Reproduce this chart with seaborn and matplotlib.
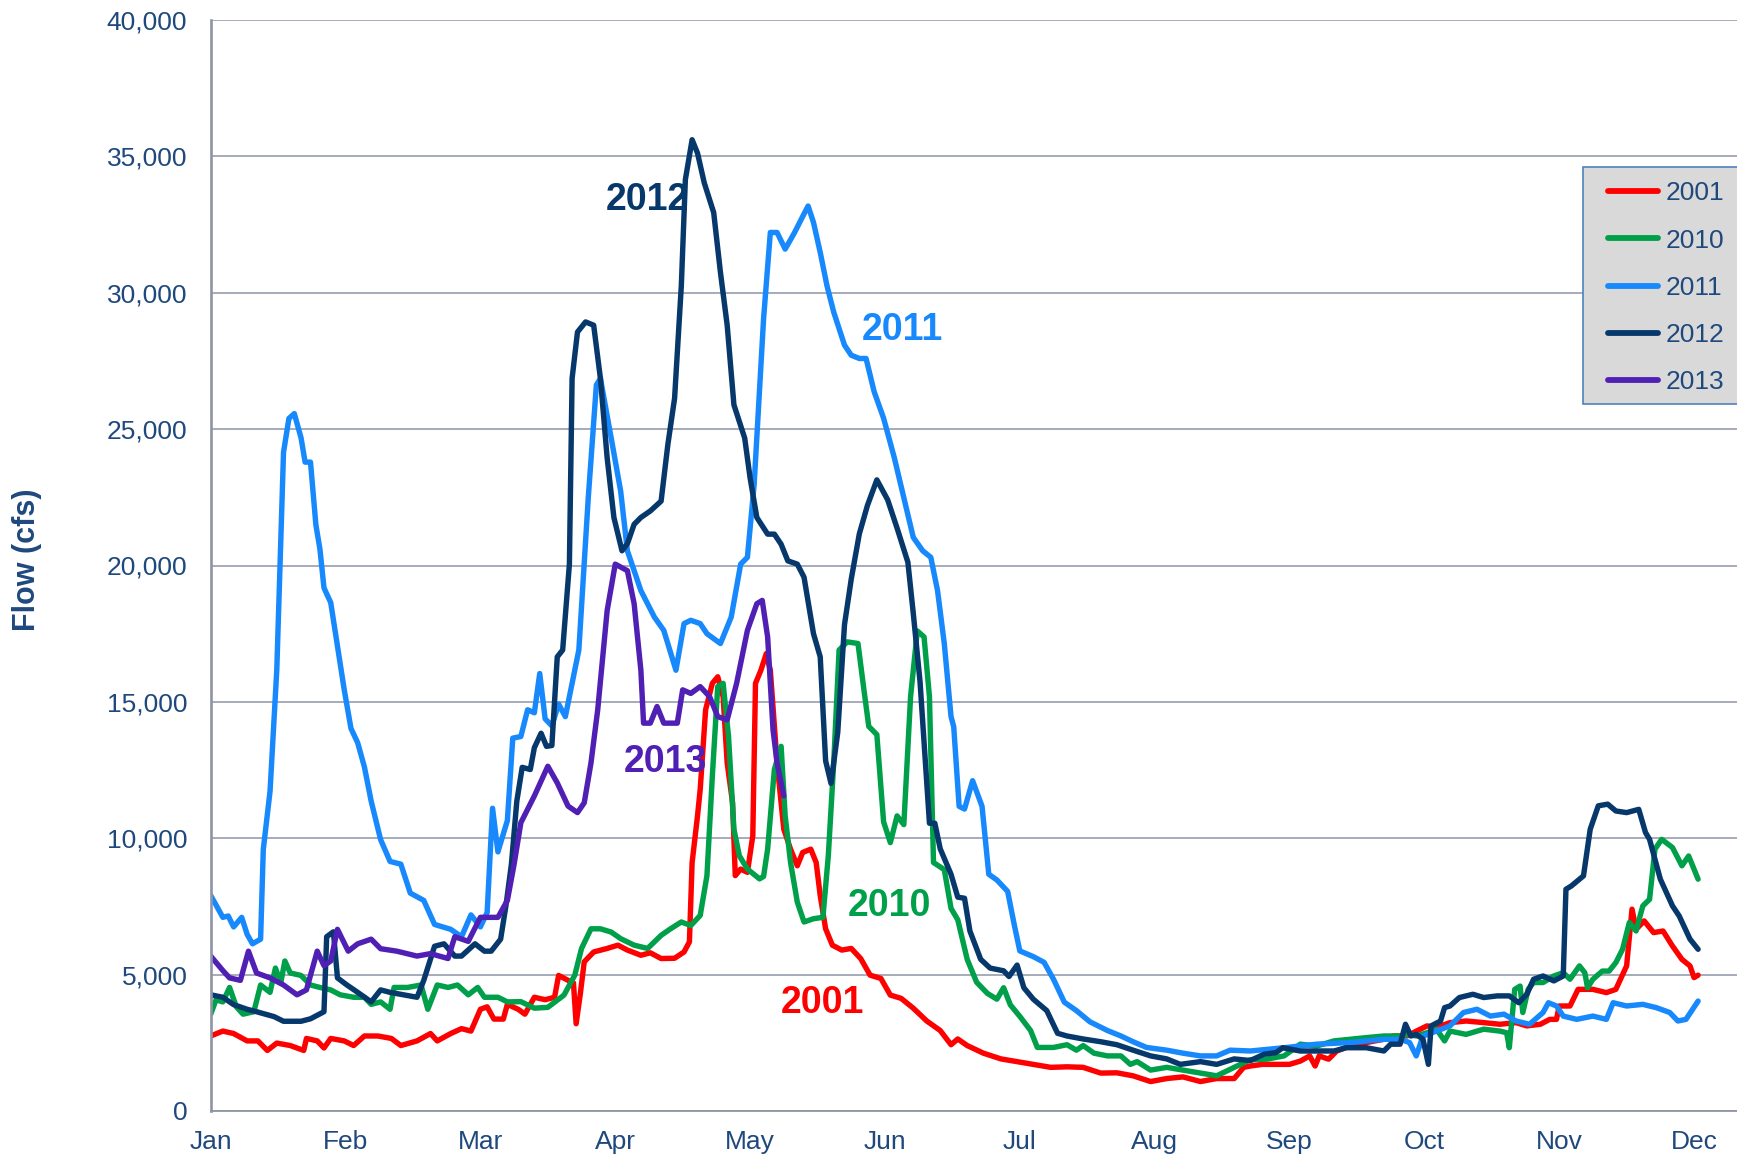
import matplotlib
matplotlib.use("Agg")
import matplotlib.pyplot as plt
import matplotlib.patches as mpatches
from matplotlib.lines import Line2D
from matplotlib.ticker import FuncFormatter
import seaborn as sns
import pandas as pd

# ---------------- data (x = position in months, 0 = Jan 1) ----------------
months = ["Jan", "Feb", "Mar", "Apr", "May", "Jun", "Jul", "Aug", "Sep", "Oct", "Nov", "Dec"]
years = ["2001", "2010", "2011", "2012", "2013"]

t_2001 = [0.00, 0.09, 0.17, 0.27, 0.35, 0.42, 0.49, 0.59, 0.69, 0.71, 0.79, 0.84, 0.89, 0.99, 1.06, 1.14, 1.24,
          1.34, 1.41, 1.53, 1.63, 1.68, 1.78, 1.86, 1.93, 2.00, 2.05, 2.10, 2.17, 2.20, 2.28, 2.33, 2.40, 2.48,
          2.55, 2.58, 2.65, 2.69, 2.71, 2.74, 2.77, 2.84, 2.94, 3.02, 3.09, 3.19, 3.26, 3.34, 3.44, 3.51, 3.55,
          3.57, 3.61, 3.63, 3.67, 3.72, 3.76, 3.80, 3.83, 3.87, 3.89, 3.93, 3.98, 4.02, 4.04, 4.08, 4.12, 4.15,
          4.20, 4.25, 4.30, 4.35, 4.39, 4.45, 4.49, 4.52, 4.56, 4.61, 4.68, 4.75, 4.82, 4.89, 4.97, 5.04, 5.12,
          5.21, 5.31, 5.41, 5.49, 5.54, 5.61, 5.73, 5.86, 5.98, 6.10, 6.23, 6.35, 6.47, 6.60, 6.72, 6.84, 6.97,
          7.09, 7.21, 7.34, 7.46, 7.59, 7.66, 7.71, 7.80, 7.90, 8.00, 8.08, 8.15, 8.19, 8.22, 8.29, 8.35, 8.45,
          8.57, 8.70, 8.77, 8.87, 8.97, 9.02, 9.09, 9.19, 9.31, 9.44, 9.56, 9.68, 9.76, 9.86, 9.93, 9.98, 10.00,
          10.08, 10.14, 10.25, 10.35, 10.42, 10.50, 10.54, 10.57, 10.63, 10.70, 10.77, 10.84, 10.91, 10.97,
          11.00, 11.03]
q_2001 = [2750, 2930, 2840, 2570, 2570, 2220, 2490, 2400, 2220, 2660, 2570, 2310, 2660, 2570, 2400, 2750, 2750,
          2660, 2400, 2570, 2840, 2570, 2840, 3020, 2930, 3730, 3820, 3370, 3370, 3910, 3730, 3550, 4170, 4080,
          4170, 4970, 4790, 4700, 3200, 4260, 5470, 5830, 5960, 6080, 5900, 5710, 5800, 5590, 5600, 5830, 6200,
          9110, 10820, 11790, 14710, 15680, 15920, 15190, 12760, 11300, 8630, 8870, 8750, 10090, 15680, 16160,
          16770, 16160, 12760, 10330, 9600, 8990, 9480, 9600, 9110, 7900, 6680, 6080, 5900, 5960, 5590, 4980,
          4860, 4250, 4130, 3770, 3300, 2950, 2430, 2640, 2400, 2120, 1910, 1810, 1710, 1600, 1620, 1600, 1390,
          1400, 1290, 1080, 1190, 1250, 1080, 1190, 1190, 1600, 1650, 1710, 1710, 1710, 1830, 2020, 1650, 2020,
          1900, 2200, 2380, 2510, 2630, 2750, 2750, 3000, 3120, 3060, 3240, 3300, 3240, 3180, 3240, 3120, 3180,
          3360, 3360, 3850, 3850, 4460, 4460, 4340, 4460, 5320, 7400, 6660, 6970, 6540, 6600, 6050, 5560, 5320,
          4890, 4980]

t_2010 = [0.00, 0.04, 0.09, 0.14, 0.19, 0.24, 0.32, 0.37, 0.44, 0.48, 0.52, 0.55, 0.59, 0.67, 0.74, 0.81, 0.89,
          0.96, 1.06, 1.14, 1.19, 1.26, 1.33, 1.36, 1.46, 1.56, 1.61, 1.68, 1.76, 1.83, 1.91, 1.98, 2.03, 2.13,
          2.20, 2.30, 2.40, 2.50, 2.62, 2.70, 2.75, 2.82, 2.89, 2.97, 3.04, 3.14, 3.24, 3.34, 3.41, 3.49, 3.56,
          3.63, 3.68, 3.72, 3.76, 3.80, 3.84, 3.88, 3.92, 3.98, 4.07, 4.10, 4.13, 4.18, 4.23, 4.26, 4.30, 4.35,
          4.40, 4.47, 4.54, 4.58, 4.62, 4.66, 4.72, 4.80, 4.84, 4.88, 4.94, 4.99, 5.04, 5.09, 5.14, 5.19, 5.24,
          5.29, 5.33, 5.36, 5.44, 5.49, 5.54, 5.61, 5.68, 5.76, 5.83, 5.88, 5.93, 6.00, 6.08, 6.13, 6.25, 6.35,
          6.42, 6.47, 6.55, 6.65, 6.75, 6.82, 6.87, 6.97, 7.09, 7.21, 7.34, 7.46, 7.59, 7.71, 7.83, 7.96, 8.08,
          8.20, 8.33, 8.45, 8.57, 8.70, 8.82, 8.89, 8.94, 9.02, 9.09, 9.15, 9.19, 9.31, 9.44, 9.56, 9.61, 9.63,
          9.67, 9.71, 9.73, 9.77, 9.81, 9.88, 9.96, 10.03, 10.08, 10.15, 10.19, 10.21, 10.25, 10.32, 10.37,
          10.42, 10.47, 10.52, 10.57, 10.62, 10.67, 10.71, 10.76, 10.84, 10.91, 10.96, 11.03]
q_2010 = [3550, 4080, 4000, 4530, 3820, 3550, 3640, 4620, 4350, 5240, 4710, 5500, 5060, 4970, 4620, 4530, 4440,
          4260, 4170, 4170, 3910, 4000, 3730, 4530, 4530, 4620, 3730, 4620, 4530, 4620, 4260, 4530, 4170, 4170,
          4000, 4010, 3770, 3800, 4250, 4980, 5960, 6680, 6680, 6560, 6320, 6080, 5960, 6440, 6680, 6930, 6800,
          7170, 8630, 12280, 15560, 15680, 13730, 10330, 9360, 8870, 8510, 8600, 9600, 12520, 13370, 10820,
          9110, 7660, 6930, 7050, 7100, 9360, 12760, 16900, 17200, 17140, 15600, 14100, 13800, 10600, 9840,
          10820, 10500, 15190, 17600, 17380, 15190, 9110, 8850, 7430, 7010, 5560, 4720, 4310, 4100, 4520, 3890,
          3470, 2950, 2330, 2330, 2430, 2230, 2400, 2120, 2020, 2020, 1710, 1810, 1500, 1600, 1500, 1390, 1290,
          1600, 1880, 1900, 2020, 2450, 2380, 2570, 2630, 2690, 2750, 2750, 2810, 2750, 2870, 3000, 2570, 2930,
          2810, 3000, 2930, 2870, 2320, 4460, 4580, 3610, 4460, 4710, 4710, 4950, 5070, 4830, 5320, 5070, 4520,
          4830, 5130, 5130, 5440, 5930, 6910, 6600, 7520, 7760, 9600, 9960, 9660, 8990, 9350, 8500]

t_2011 = [0.00, 0.04, 0.09, 0.13, 0.17, 0.23, 0.27, 0.31, 0.37, 0.39, 0.44, 0.49, 0.54, 0.58, 0.62, 0.67, 0.70,
          0.74, 0.78, 0.81, 0.84, 0.89, 0.94, 0.99, 1.04, 1.09, 1.14, 1.19, 1.26, 1.33, 1.41, 1.48, 1.58, 1.66,
          1.78, 1.86, 1.93, 2.00, 2.05, 2.09, 2.13, 2.20, 2.24, 2.30, 2.35, 2.40, 2.44, 2.48, 2.53, 2.58, 2.63,
          2.68, 2.73, 2.80, 2.86, 2.89, 2.97, 3.04, 3.09, 3.19, 3.29, 3.36, 3.45, 3.51, 3.56, 3.63, 3.68, 3.78,
          3.86, 3.93, 3.98, 4.03, 4.10, 4.15, 4.20, 4.26, 4.33, 4.38, 4.43, 4.47, 4.52, 4.57, 4.62, 4.70, 4.75,
          4.81, 4.86, 4.92, 4.99, 5.07, 5.14, 5.21, 5.28, 5.34, 5.39, 5.44, 5.49, 5.51, 5.55, 5.59, 5.65, 5.72,
          5.77, 5.83, 5.91, 5.96, 6.00, 6.10, 6.18, 6.25, 6.33, 6.42, 6.52, 6.65, 6.75, 6.84, 6.94, 7.09, 7.21,
          7.34, 7.46, 7.56, 7.71, 7.96, 8.20, 8.45, 8.70, 8.82, 8.89, 8.94, 8.99, 9.09, 9.19, 9.29, 9.39, 9.49,
          9.59, 9.68, 9.78, 9.88, 9.92, 9.98, 10.03, 10.13, 10.25, 10.35, 10.40, 10.50, 10.62, 10.72, 10.82,
          10.88, 10.94, 10.99, 11.03]
q_2011 = [7900, 7550, 7100, 7150, 6750, 7100, 6480, 6130, 6300, 9590, 11720, 16160, 24150, 25390, 25570, 24680,
          23790, 23790, 21490, 20600, 19180, 18640, 17050, 15450, 14030, 13500, 12610, 11360, 9950, 9150, 9050,
          7990, 7720, 6840, 6660, 6390, 7190, 6750, 7280, 11100, 9500, 10650, 13670, 13730, 14710, 14600, 16040,
          14380, 14120, 14920, 14460, 15680, 16900, 22490, 26620, 26860, 24670, 22730, 20540, 19080, 18110,
          17620, 16160, 17870, 17990, 17870, 17500, 17140, 18110, 20050, 20300, 22970, 29050, 32210, 32210,
          31600, 32210, 32700, 33180, 32580, 31480, 30260, 29290, 28080, 27710, 27590, 27590, 26370, 25400,
          23940, 22490, 21030, 20540, 20300, 19080, 17140, 14460, 14090, 11170, 11070, 12110, 11170, 8680, 8470,
          8050, 6800, 5870, 5660, 5450, 4830, 3990, 3680, 3270, 2950, 2750, 2540, 2330, 2230, 2120, 2020, 2020,
          2230, 2200, 2320, 2450, 2510, 2630, 2630, 2510, 2020, 2750, 2930, 3120, 3610, 3730, 3480, 3550, 3300,
          3180, 3610, 3970, 3850, 3480, 3360, 3480, 3360, 3970, 3850, 3910, 3790, 3610, 3300, 3360, 3730, 4030]

t_2012 = [0.00, 0.09, 0.17, 0.27, 0.34, 0.47, 0.54, 0.67, 0.74, 0.84, 0.86, 0.91, 0.94, 1.01, 1.09, 1.19, 1.26,
          1.33, 1.43, 1.53, 1.58, 1.66, 1.73, 1.81, 1.86, 1.96, 2.03, 2.08, 2.15, 2.19, 2.23, 2.27, 2.31, 2.37,
          2.40, 2.45, 2.49, 2.53, 2.57, 2.61, 2.66, 2.68, 2.72, 2.78, 2.84, 2.89, 2.94, 2.99, 3.05, 3.09, 3.14,
          3.19, 3.26, 3.34, 3.39, 3.44, 3.49, 3.52, 3.57, 3.61, 3.66, 3.73, 3.78, 3.83, 3.88, 3.96, 4.00, 4.05,
          4.13, 4.18, 4.23, 4.28, 4.35, 4.40, 4.47, 4.52, 4.56, 4.60, 4.65, 4.70, 4.75, 4.81, 4.87, 4.94, 5.02,
          5.09, 5.17, 5.21, 5.26, 5.33, 5.37, 5.41, 5.49, 5.54, 5.59, 5.63, 5.71, 5.78, 5.88, 5.92, 5.98, 6.03,
          6.10, 6.20, 6.28, 6.35, 6.47, 6.60, 6.72, 6.84, 6.97, 7.09, 7.19, 7.34, 7.46, 7.59, 7.71, 7.81, 7.90,
          7.95, 8.08, 8.20, 8.33, 8.42, 8.57, 8.70, 8.75, 8.82, 8.86, 8.90, 8.94, 8.99, 9.03, 9.05, 9.12, 9.15,
          9.19, 9.26, 9.36, 9.44, 9.54, 9.63, 9.70, 9.76, 9.81, 9.88, 9.96, 10.03, 10.05, 10.09, 10.18, 10.23,
          10.29, 10.36, 10.42, 10.50, 10.59, 10.64, 10.67, 10.75, 10.84, 10.89, 10.97, 11.03]
q_2012 = [4260, 4170, 3900, 3730, 3640, 3460, 3290, 3290, 3380, 3640, 6390, 6570, 4880, 4620, 4350, 4000, 4440,
          4350, 4260, 4170, 4790, 6040, 6130, 5680, 5680, 6130, 5860, 5860, 6300, 7550, 9050, 11360, 12600,
          12520, 13320, 13850, 13370, 13400, 16650, 16900, 20050, 26860, 28560, 28930, 28810, 26860, 23940,
          21760, 20540, 20800, 21510, 21760, 22000, 22360, 24430, 26130, 30260, 34150, 35610, 35120, 34030,
          32940, 30750, 28810, 25890, 24670, 23210, 21760, 21150, 21150, 20780, 20170, 20050, 19570, 17500,
          16650, 12840, 12010, 13880, 17830, 19500, 21160, 22200, 23140, 22410, 21370, 20120, 18250, 15750,
          10550, 10550, 9610, 8680, 7840, 7800, 6600, 5560, 5240, 5140, 4930, 5350, 4520, 4100, 3680, 2850,
          2750, 2640, 2540, 2430, 2230, 2020, 1910, 1710, 1810, 1710, 1910, 1850, 2080, 2140, 2320, 2200, 2200,
          2200, 2320, 2320, 2200, 2450, 2450, 3180, 2750, 2810, 2630, 1710, 3120, 3300, 3790, 3850, 4160, 4280,
          4160, 4220, 4220, 3970, 4280, 4830, 4950, 4770, 4950, 8130, 8250, 8620, 10330, 11190, 11250, 11000,
          10940, 11060, 10210, 9960, 8500, 7520, 7150, 6300, 5930]

t_2013 = [0.00, 0.09, 0.14, 0.22, 0.28, 0.34, 0.44, 0.54, 0.64, 0.71, 0.79, 0.84, 0.89, 0.94, 1.02, 1.09, 1.19,
          1.26, 1.38, 1.53, 1.63, 1.76, 1.81, 1.91, 2.00, 2.13, 2.20, 2.25, 2.30, 2.40, 2.50, 2.57, 2.65, 2.72,
          2.77, 2.82, 2.87, 2.94, 3.00, 3.09, 3.14, 3.19, 3.21, 3.26, 3.31, 3.36, 3.46, 3.50, 3.56, 3.63, 3.70,
          3.76, 3.83, 3.90, 3.98, 4.05, 4.09, 4.13, 4.17, 4.20, 4.25]
q_2013 = [5680, 5150, 4880, 4790, 5860, 5060, 4880, 4620, 4260, 4440, 5860, 5330, 5500, 6660, 5860, 6130, 6300,
          5950, 5860, 5680, 5770, 5590, 6390, 6220, 7100, 7100, 7720, 9050, 10570, 11550, 12640, 12030, 11180,
          10940, 11300, 12760, 14710, 18350, 20050, 19810, 18600, 16160, 14220, 14220, 14830, 14220, 14220,
          15440, 15310, 15560, 15190, 14460, 14340, 15680, 17620, 18600, 18720, 17380, 13980, 12760, 11550]

# in-chart series labels: (year, month position, flow)
label_pos = {"2012": (3.24, 33400), "2011": (5.13, 28630), "2013": (3.37, 12790),
             "2010": (5.03, 7510), "2001": (4.54, 3970)}

colors = {"2001": "#FF0000", "2010": "#00A04A", "2011": "#1789FC",
          "2012": "#06386C", "2013": "#5020B4"}

series = {"2001": (t_2001, q_2001), "2010": (t_2010, q_2010), "2011": (t_2011, q_2011),
          "2012": (t_2012, q_2012), "2013": (t_2013, q_2013)}
frames = [pd.DataFrame({"month": t, "flow": q, "year": y}) for y, (t, q) in series.items()]
df = pd.concat(frames, ignore_index=True)

# ---------------- style ----------------
sns.set_style("white")
plt.rcParams["font.family"] = ["Liberation Sans", "DejaVu Sans"]
TXT = "#1F497D"
GRID = "#8D95A5"

W, H = 1737, 1159
fig = plt.figure(figsize=(W / 100, H / 100), dpi=100)
ax = fig.add_axes([210.7 / W, 1 - 1111 / H, (W - 210.7) / W, (1111 - 20) / H])

sns.lineplot(data=df, x="month", y="flow", hue="year", hue_order=years, palette=colors,
             estimator=None, sort=False, linewidth=3.9, legend=False, ax=ax,
             solid_joinstyle="round", solid_capstyle="round")

ax.set_xlim(0, (W - 210.7) / 134.85)
ax.set_ylim(0, 40000)
ax.set_xticks(range(len(months)))
ax.set_xticklabels(months)
ax.set_yticks(range(0, 40001, 5000))
ax.yaxis.set_major_formatter(FuncFormatter(lambda v, p: f"{int(v):,}"))
ax.set_xlabel("")
ax.set_ylabel("")

ax.grid(axis="y", color=GRID, linewidth=1.1)
ax.grid(axis="x", visible=False)
ax.set_axisbelow(True)
for s in ["top", "right"]:
    ax.spines[s].set_visible(False)
ax.spines["left"].set_color(GRID)
ax.spines["left"].set_linewidth(1.9)
ax.spines["bottom"].set_color(GRID)
ax.spines["bottom"].set_linewidth(1.3)
ax.tick_params(axis="y", direction="out", length=5.8, width=1.3, color=GRID,
               labelsize=19, labelcolor=TXT, pad=11)
ax.tick_params(axis="x", direction="out", length=5.0, width=1.3, color=GRID,
               labelsize=19, labelcolor=TXT, pad=8.5)

# series labels inside the chart
for y in years:
    mx, my = label_pos[y]
    ax.text(mx, my, y, color=colors[y], fontsize=27, fontweight="bold", ha="center", va="center")

# y-axis title
fig.text(26.6 / W, 1 - 560 / H, "Flow (cfs)", rotation=90, ha="center", va="center",
         fontsize=22, fontweight="bold", color=TXT)

# legend box (extends past right edge like the original)
box = mpatches.Rectangle((1582.7 / W, 1 - 404 / H), 0.2, (404 - 167.3) / H,
                         transform=fig.transFigure, facecolor="#D9D9D9",
                         edgecolor="#4F81BD", linewidth=1.2, zorder=1)
fig.patches.append(box)
handles = [Line2D([0], [0], color=colors[y], linewidth=4.2, solid_capstyle="round") for y in years]
fig.legend(handles, years, loc="upper left", bbox_to_anchor=(1608 / W, 1 - 181.5 / H),
           frameon=False, borderpad=0, borderaxespad=0, handlelength=1.9, handletextpad=0.27,
           labelspacing=0.88, fontsize=19, labelcolor=TXT)

fig.savefig("out.png", dpi=100)
